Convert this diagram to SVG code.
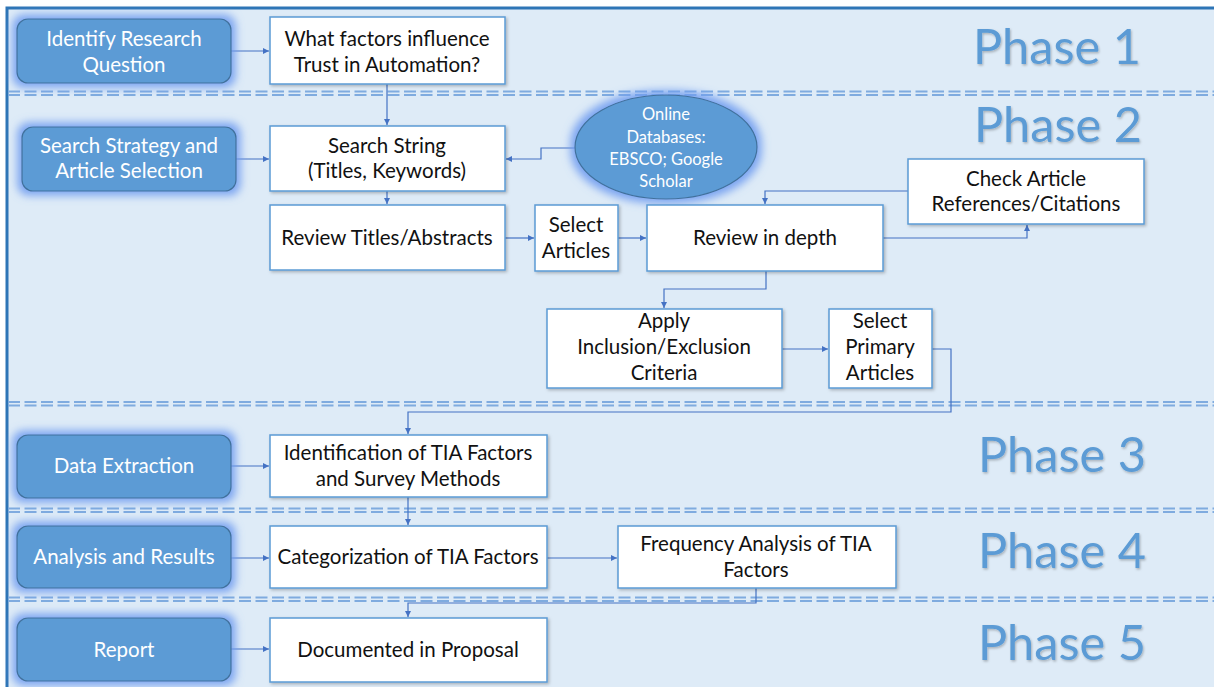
<svg xmlns="http://www.w3.org/2000/svg" width="1214" height="687" viewBox="0 0 1214 687">
  <style>
    .lane { fill: #deebf7; }
    .frame { fill: none; stroke: #2e75b6; stroke-width: 3; }
    .sep { fill: none; stroke: #7fabdf; stroke-width: 1.8; stroke-dasharray: 12 4.5; }
    .step { fill: #5b9bd5; stroke: #41719c; stroke-width: 1.2; }
    .box { fill: #ffffff; stroke: #5b9bd5; stroke-width: 1.5; }
    .wt { font-family: Lato, "Liberation Sans", sans-serif; font-size: 20.5px; fill: #ffffff; text-anchor: middle; }
    .bt { font-family: Lato, "Liberation Sans", sans-serif; font-size: 20.5px; fill: #111111; text-anchor: middle; }
    .et { font-family: Lato, "Liberation Sans", sans-serif; font-size: 16.5px; fill: #ffffff; text-anchor: middle; }
    .phase { font-family: Lato, "Liberation Sans", sans-serif; font-size: 48px; fill: #5b9bd5; }
    .link { fill: none; stroke: #4472c4; stroke-width: 1.2; }
  </style>
  <defs>
    <filter id="glow" x="-25%" y="-50%" width="150%" height="200%">
      <feMorphology in="SourceAlpha" operator="dilate" radius="4" result="d"/>
      <feGaussianBlur in="d" stdDeviation="4.5" result="b"/>
      <feFlood flood-color="#6f9cf0" flood-opacity="0.9"/>
      <feComposite in2="b" operator="in" result="g"/>
      <feMerge><feMergeNode in="g"/><feMergeNode in="SourceGraphic"/></feMerge>
    </filter>
    <filter id="shadow" x="-10%" y="-10%" width="125%" height="130%">
      <feDropShadow dx="1.5" dy="1.5" stdDeviation="1.5" flood-color="#000000" flood-opacity="0.25"/>
    </filter>
    <filter id="tshadow" x="-10%" y="-20%" width="120%" height="150%">
      <feDropShadow dx="1" dy="1.5" stdDeviation="1" flood-color="#000000" flood-opacity="0.25"/>
    </filter>
    <marker id="arr" markerUnits="userSpaceOnUse" markerWidth="7" markerHeight="7" refX="6" refY="3.5" orient="auto">
      <path d="M0,0.5 L6,3.5 L0,6.5 Z" fill="#4472c4"/>
    </marker>
  </defs>

  <!-- page background and swim-lane frame -->
  <rect x="0" y="0" width="1214" height="687" fill="#ffffff"/>
  <rect class="lane" x="7" y="8" width="1210" height="682"/>
  <path class="frame" d="M7,690 V8 H1216"/>

  <!-- phase separators (double dashed) -->
  <g id="separators">
    <path class="sep" d="M8,91.5 H1214 M8,95 H1214"/>
    <path class="sep" d="M8,402 H1214 M8,405.5 H1214"/>
    <path class="sep" d="M8,508.5 H1214 M8,512 H1214"/>
    <path class="sep" d="M8,597.5 H1214 M8,601 H1214"/>
  </g>

  <!-- phase titles -->
  <g id="phases" filter="url(#tshadow)">
    <text class="phase" x="973" y="64" textLength="168" lengthAdjust="spacingAndGlyphs">Phase 1</text>
    <text class="phase" x="974" y="142" textLength="168" lengthAdjust="spacingAndGlyphs">Phase 2</text>
    <text class="phase" x="978" y="472" textLength="168" lengthAdjust="spacingAndGlyphs">Phase 3</text>
    <text class="phase" x="978" y="568" textLength="168" lengthAdjust="spacingAndGlyphs">Phase 4</text>
    <text class="phase" x="978" y="660" textLength="168" lengthAdjust="spacingAndGlyphs">Phase 5</text>
  </g>

  <!-- connectors -->
  <g id="connectors">
    <path class="link" marker-end="url(#arr)" d="M231,51 H269"/>
    <path class="link" marker-end="url(#arr)" d="M387,84 V125"/>
    <path class="link" marker-end="url(#arr)" d="M236,159 H269"/>
    <path class="link" marker-end="url(#arr)" d="M575,148 H541 V159 H506"/>
    <path class="link" marker-end="url(#arr)" d="M387,191 V204"/>
    <path class="link" marker-end="url(#arr)" d="M505,238 H534"/>
    <path class="link" marker-end="url(#arr)" d="M618,238 H646"/>
    <path class="link" marker-end="url(#arr)" d="M883,238 H1027 V225"/>
    <path class="link" marker-end="url(#arr)" d="M908,191 H765 V204"/>
    <path class="link" marker-end="url(#arr)" d="M766,271 V289 H664 V308"/>
    <path class="link" marker-end="url(#arr)" d="M782,349 H828"/>
    <path class="link" marker-end="url(#arr)" d="M932,349 H951 V412 H408 V434"/>
    <path class="link" marker-end="url(#arr)" d="M231,466 H269"/>
    <path class="link" marker-end="url(#arr)" d="M408,497 V525"/>
    <path class="link" marker-end="url(#arr)" d="M231,558 H269"/>
    <path class="link" marker-end="url(#arr)" d="M547,558 H617"/>
    <path class="link" marker-end="url(#arr)" d="M756,588 V603 H408 V617"/>
    <path class="link" marker-end="url(#arr)" d="M231,649 H269"/>
  </g>

  <!-- phase 1 -->
  <g id="identify-question">
    <rect class="step" filter="url(#glow)" x="17" y="19" width="214" height="64" rx="11"/>
    <text class="wt" x="124" y="46">Identify Research</text>
    <text class="wt" x="124" y="72">Question</text>
  </g>
  <g id="question">
    <rect class="box" filter="url(#shadow)" x="270" y="17" width="235" height="67"/>
    <text class="bt" x="387" y="46">What factors influence</text>
    <text class="bt" x="387" y="72">Trust in Automation?</text>
  </g>

  <!-- phase 2 -->
  <g id="search-strategy">
    <rect class="step" filter="url(#glow)" x="22" y="127" width="214" height="64" rx="11"/>
    <text class="wt" x="129" y="153">Search Strategy and</text>
    <text class="wt" x="129" y="178">Article Selection</text>
  </g>
  <g id="search-string">
    <rect class="box" filter="url(#shadow)" x="270" y="126" width="235" height="65"/>
    <text class="bt" x="387" y="153">Search String</text>
    <text class="bt" x="387" y="178">(Titles, Keywords)</text>
  </g>
  <g id="databases">
    <ellipse class="step" filter="url(#glow)" cx="666" cy="147" rx="91" ry="52"/>
    <text class="et" x="666" y="120">Online</text>
    <text class="et" x="666" y="143">Databases:</text>
    <text class="et" x="666" y="165">EBSCO; Google</text>
    <text class="et" x="666" y="187">Scholar</text>
  </g>
  <g id="check-references">
    <rect class="box" filter="url(#shadow)" x="908" y="159" width="236" height="65"/>
    <text class="bt" x="1026" y="186">Check Article</text>
    <text class="bt" x="1026" y="211">References/Citations</text>
  </g>
  <g id="review-titles">
    <rect class="box" filter="url(#shadow)" x="270" y="205" width="235" height="65"/>
    <text class="bt" x="387" y="245">Review Titles/Abstracts</text>
  </g>
  <g id="select-articles">
    <rect class="box" filter="url(#shadow)" x="535" y="205" width="83" height="66"/>
    <text class="bt" x="576" y="232">Select</text>
    <text class="bt" x="576" y="258">Articles</text>
  </g>
  <g id="review-depth">
    <rect class="box" filter="url(#shadow)" x="647" y="205" width="236" height="66"/>
    <text class="bt" x="765" y="245">Review in depth</text>
  </g>
  <g id="apply-criteria">
    <rect class="box" filter="url(#shadow)" x="547" y="309" width="235" height="79"/>
    <text class="bt" x="664" y="328">Apply</text>
    <text class="bt" x="664" y="354">Inclusion/Exclusion</text>
    <text class="bt" x="664" y="380">Criteria</text>
  </g>
  <g id="select-primary">
    <rect class="box" filter="url(#shadow)" x="829" y="309" width="103" height="79"/>
    <text class="bt" x="880" y="328">Select</text>
    <text class="bt" x="880" y="354">Primary</text>
    <text class="bt" x="880" y="380">Articles</text>
  </g>

  <!-- phase 3 -->
  <g id="data-extraction">
    <rect class="step" filter="url(#glow)" x="17" y="435" width="214" height="63" rx="11"/>
    <text class="wt" x="124" y="473">Data Extraction</text>
  </g>
  <g id="identification">
    <rect class="box" filter="url(#shadow)" x="270" y="435" width="277" height="62"/>
    <text class="bt" x="408" y="460">Identification of TIA Factors</text>
    <text class="bt" x="408" y="486">and Survey Methods</text>
  </g>

  <!-- phase 4 -->
  <g id="analysis-results">
    <rect class="step" filter="url(#glow)" x="17" y="526" width="214" height="62" rx="11"/>
    <text class="wt" x="124" y="564">Analysis and Results</text>
  </g>
  <g id="categorization">
    <rect class="box" filter="url(#shadow)" x="270" y="526" width="277" height="62"/>
    <text class="bt" x="408" y="564">Categorization of TIA Factors</text>
  </g>
  <g id="frequency">
    <rect class="box" filter="url(#shadow)" x="618" y="526" width="278" height="62"/>
    <text class="bt" x="756" y="551">Frequency Analysis of TIA</text>
    <text class="bt" x="756" y="577">Factors</text>
  </g>

  <!-- phase 5 -->
  <g id="report">
    <rect class="step" filter="url(#glow)" x="17" y="618" width="214" height="63" rx="11"/>
    <text class="wt" x="124" y="657">Report</text>
  </g>
  <g id="documented">
    <rect class="box" filter="url(#shadow)" x="270" y="618" width="277" height="64"/>
    <text class="bt" x="408" y="657">Documented in Proposal</text>
  </g>
</svg>
